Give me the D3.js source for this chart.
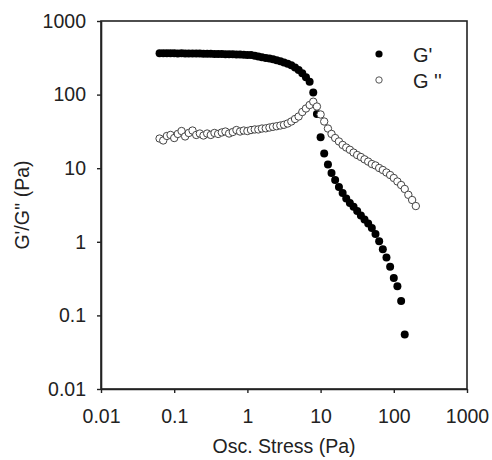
<!DOCTYPE html>
<html>
<head>
<meta charset="utf-8">
<script src="https://cdn.jsdelivr.net/npm/d3@7"></script>
<style>
  html, body { margin: 0; padding: 0; background: #fff; }
  svg { display: block; }
  text { font-family: "Liberation Sans", Arial, sans-serif; fill: #222; }
</style>
</head>
<body>
<svg id="chart" width="492" height="460"></svg>
<script>
// Oscillatory stress (Pa)
const stress = [0.0631, 0.0708, 0.0794, 0.0891, 0.1, 0.112, 0.126, 0.141, 0.158, 0.178,
  0.2, 0.224, 0.251, 0.282, 0.316, 0.355, 0.398, 0.447, 0.501, 0.562,
  0.631, 0.708, 0.794, 0.891, 1, 1.12, 1.26, 1.41, 1.58, 1.78,
  2.0, 2.24, 2.51, 2.82, 3.16, 3.55, 3.98, 4.47, 5.01, 5.62,
  6.31, 7.08, 7.94, 8.91, 10, 11.2, 12.6, 14.1, 15.8, 17.8,
  20, 22.4, 25.1, 28.2, 31.6, 35.5, 39.8, 44.7, 50.1, 56.2,
  63.1, 70.8, 79.4, 89.1, 100, 112, 126, 141, 158, 178, 200];

// Storage modulus G' (Pa)
const gPrime = [365, 366, 364, 365, 364, 363, 364, 363, 362, 362,
  361, 361, 360, 359, 358, 357, 356, 355, 354, 353,
  352, 351, 350, 348, 346, 344, 338, 330, 322, 315,
  309, 302, 294, 284, 274, 263, 250, 234, 216, 195,
  172, 150, 107, 54.5, 26.3, 15.9, 11.2, 8.6, 6.9, 5.55,
  4.60, 3.88, 3.36, 3.00, 2.62, 2.28, 2.01, 1.77, 1.54, 1.28,
  1.016, 0.791, 0.612, 0.459, 0.322, 0.248, 0.157, 0.055];

// Loss modulus G'' (Pa)
const gDouble = [25.3, 23.8, 27.4, 28.3, 25.7, 29.2, 32.0, 27.0, 30.1, 32.5,
  28.3, 29.6, 27.8, 29.6, 28.3, 30.1, 29.2, 30.6, 31.5, 29.6,
  31.0, 33.0, 31.5, 32.5, 32.0, 33.0, 33.6, 33.6, 34.6, 34.8,
  35.7, 36.5, 37.2, 38.0, 38.9, 40.5, 43.1, 46.6, 50.4, 58.0,
  64.7, 72.2, 80.1, 68.9, 53.7, 43.1, 34.6, 29.2, 25.7, 23.1,
  20.7, 19.1, 17.8, 16.3, 15.1, 14.2, 13.2, 12.3, 11.4, 10.9,
  10.06, 9.45, 8.74, 8.08, 7.36, 6.60, 5.91, 5.22, 4.35, 3.70, 3.06];

const xTicks = [0.01, 0.1, 1, 10, 100, 1000];
const xTickLabels = ["0.01", "0.1", "1", "10", "100", "1000"];
const yTicks = [0.01, 0.1, 1, 10, 100, 1000];
const yTickLabels = ["0.01", "0.1", "1", "10", "100", "1000"];
const seriesNames = ["G'", "G ''"];
const xTitle = "Osc. Stress (Pa)";
const yTitle = "G'/G'' (Pa)";

(function () {
  const svg = d3.select("#chart");
  const pL = 101, pR = 467, pT = 21, pB = 389;

  const x = d3.scaleLog().domain([0.01, 1000]).range([pL, pR]);
  const y = d3.scaleLog().domain([0.01, 1000]).range([pB, pT]);

  const axisColor = "#222";
  const fontSize = 19.5;
  const ff = '"Liberation Sans", Arial, sans-serif';

  // Frame (top/right)
  svg.append("rect")
    .attr("x", pL).attr("y", pT)
    .attr("width", pR - pL).attr("height", pB - pT)
    .attr("fill", "none").attr("stroke", axisColor).attr("stroke-width", 1.6);

  // X axis
  const xAxis = svg.append("g")
    .attr("transform", `translate(0,${pB})`)
    .call(d3.axisBottom(x).tickValues(xTicks)
      .tickFormat((d, i) => xTickLabels[i]).tickSize(4).tickPadding(16).tickSizeOuter(0));
  xAxis.select(".domain").attr("stroke", axisColor).attr("stroke-width", 1.6);
  xAxis.selectAll(".tick line").attr("stroke", axisColor).attr("stroke-width", 1.4);
  xAxis.selectAll(".tick text").attr("font-size", fontSize).attr("fill", "#222").attr("font-family", ff);

  // Y axis
  const yAxis = svg.append("g")
    .attr("transform", `translate(${pL},0)`)
    .call(d3.axisLeft(y).tickValues(yTicks)
      .tickFormat((d, i) => yTickLabels[i]).tickSize(4).tickPadding(11).tickSizeOuter(0));
  yAxis.select(".domain").attr("stroke", axisColor).attr("stroke-width", 1.6);
  yAxis.selectAll(".tick line").attr("stroke", axisColor).attr("stroke-width", 1.4);
  yAxis.selectAll(".tick text").attr("font-size", fontSize).attr("fill", "#222").attr("font-family", ff);

  // Axis titles
  svg.append("text")
    .attr("x", (pL + pR) / 2).attr("y", 453)
    .attr("text-anchor", "middle").attr("font-size", 19.5)
    .text(xTitle);

  svg.append("text")
    .attr("transform", `translate(29,${(pT + pB) / 2}) rotate(-90)`)
    .attr("text-anchor", "middle").attr("font-size", 19.5)
    .text(yTitle);

  // G' series (filled)
  const gp = stress.slice(0, gPrime.length).map((s, i) => ({ x: s, y: gPrime[i] }));
  svg.append("g").selectAll("circle").data(gp).join("circle")
    .attr("cx", d => x(d.x)).attr("cy", d => y(d.y))
    .attr("r", 4).attr("fill", "#000");

  // G'' series (open)
  const gd = stress.map((s, i) => ({ x: s, y: gDouble[i] }));
  svg.append("g").selectAll("circle").data(gd).join("circle")
    .attr("cx", d => x(d.x)).attr("cy", d => y(d.y))
    .attr("r", 3.7).attr("fill", "#fff").attr("stroke", "#444").attr("stroke-width", 1);

  // Legend
  const legend = svg.append("g");
  legend.append("circle").attr("cx", 379).attr("cy", 54).attr("r", 3.6).attr("fill", "#000");
  legend.append("circle").attr("cx", 379).attr("cy", 80).attr("r", 3.2)
    .attr("fill", "#fff").attr("stroke", "#555").attr("stroke-width", 1);
  legend.append("text").attr("x", 413).attr("y", 61.5).attr("font-size", 20).text(seriesNames[0]);
  legend.append("text").attr("x", 413).attr("y", 87.5).attr("font-size", 20).text(seriesNames[1]);
})();
</script>
</body>
</html>
